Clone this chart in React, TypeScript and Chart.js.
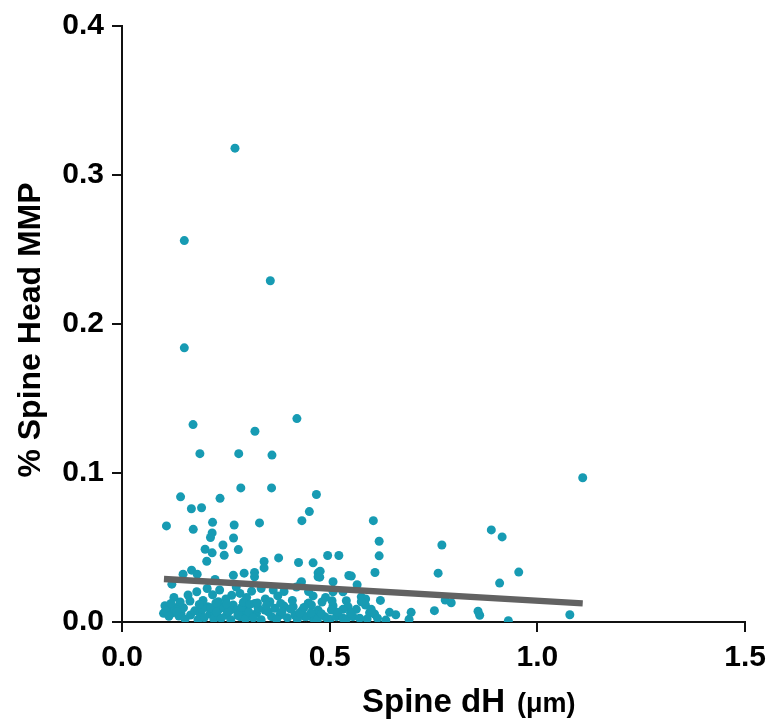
import React, { useEffect, useRef } from "react";
import { Chart, registerables } from "chart.js";

Chart.register(...registerables);

const xTicks = [0, 0.5, 1.0, 1.5];
const yTicks = [0, 0.1, 0.2, 0.3, 0.4];

const spineDH: number[] = [
  0.272, 0.150, 0.357, 0.150, 0.171, 0.320, 0.421, 0.1875, 0.281, 0.361,
  0.286, 0.360, 0.141, 0.468, 0.236, 0.167, 0.1915, 0.451, 0.433, 0.218,
  0.270, 0.331, 0.107, 0.1715, 0.217, 0.213, 0.2685, 0.243, 0.200, 0.280,
  0.217, 0.246, 0.204, 0.342, 0.377, 0.425, 0.460, 0.342, 0.1675, 0.147,
  0.181, 0.294, 0.268, 0.319, 0.319, 0.472, 0.120, 0.224, 0.430, 0.472,
  0.159, 0.180, 0.218, 0.264, 0.284, 0.312, 0.364, 0.390, 0.449, 0.1635,
  0.232, 0.356, 0.4495, 0.390,
  0.605, 0.619, 0.619, 0.495, 0.522, 0.609, 0.477, 0.476, 0.546, 0.552,
  0.508, 0.566, 0.432, 0.508, 0.532, 0.576, 0.5865, 0.622, 0.4815, 0.5056,
  0.508, 0.540, 0.544, 0.564, 0.586, 0.596, 0.608, 0.644, 0.659, 0.635,
  0.696, 0.691, 0.752, 0.761, 0.770, 0.778, 0.7925, 0.857, 0.861, 0.889,
  0.915, 0.909, 0.955, 0.930, 1.078, 1.109, 0.448, 0.504, 0.532, 0.576,
  0.44, 0.46, 0.488, 0.5, 0.516, 0.532, 0.556, 0.572,
  0.1034, 0.1154, 0.1354, 0.100, 0.1218, 0.1418, 0.165, 0.1875, 0.206, 0.2115,
  0.2316, 0.2356, 0.2516, 0.2676, 0.2756, 0.2916, 0.2997, 0.3197, 0.3237, 0.3438,
  0.360, 0.380, 0.412, 0.416, 0.434, 0.444, 0.456, 0.464, 0.472, 0.111,
  0.1955, 0.2236, 0.2596, 0.2837, 0.312,
  0.105, 0.113, 0.128, 0.137, 0.148, 0.152, 0.175, 0.183, 0.193, 0.198,
  0.214, 0.221, 0.228, 0.239, 0.245, 0.256, 0.262, 0.279, 0.288, 0.297,
  0.305, 0.316, 0.328, 0.335, 0.352, 0.368, 0.372, 0.385, 0.398, 0.405,
  0.422, 0.428, 0.438, 0.455, 0.47, 0.48, 0.495, 0.52, 0.54, 0.55,
  0.59, 0.6, 0.615,
  0.125, 0.14, 0.195, 0.205, 0.235, 0.25, 0.275, 0.3, 0.335, 0.345,
  0.375, 0.41, 0.42, 0.46, 0.49,
  0.118, 0.132, 0.186, 0.226, 0.252, 0.292, 0.308, 0.326, 0.348, 0.382,
];

const headMMP: number[] = [
  0.318, 0.256, 0.229, 0.184, 0.1325, 0.128, 0.1365, 0.113, 0.113, 0.112,
  0.090, 0.090, 0.084, 0.0856, 0.083, 0.076, 0.0767, 0.0741, 0.068, 0.0669,
  0.0651, 0.0665, 0.0645, 0.0622, 0.0598, 0.0567, 0.0564, 0.0517, 0.0488, 0.0486,
  0.0464, 0.0448, 0.0408, 0.0406, 0.043, 0.0399, 0.0397, 0.0363, 0.0348, 0.0321,
  0.0321, 0.0328, 0.0314, 0.0332, 0.0303, 0.033, 0.0254, 0.0286, 0.0259, 0.0303,
  0.0181, 0.0203, 0.0183, 0.0179, 0.0192, 0.0207, 0.0214, 0.0205, 0.0205, 0.0141,
  0.0136, 0.0136, 0.0127, 0.0107,
  0.068, 0.0542, 0.0444, 0.0446, 0.0446, 0.0332, 0.0341, 0.0301, 0.0312, 0.0308,
  0.027, 0.025, 0.027, 0.0203, 0.0203, 0.0169, 0.0154, 0.0145, 0.0134, 0.0143,
  0.0109, 0.0143, 0.0102, 0.0085, 0.0114, 0.0062, 0.0054, 0.0065, 0.0049, 0.0013,
  0.0065, 0.0018, 0.0076, 0.0328, 0.0517, 0.0147, 0.0129, 0.0072, 0.0045, 0.0618,
  0.0571, 0.0261, 0.0335, 0.0009, 0.0049, 0.0968, 0.0125, 0.008, 0.0085, 0.0136,
  0.0036, 0.0025, 0.0036, 0.0018, 0.0036, 0.0025, 0.0036, 0.0025,
  0.0109, 0.0109, 0.0102, 0.0058, 0.0062, 0.0058, 0.0047, 0.0058, 0.0102, 0.0054,
  0.008, 0.0114, 0.0047, 0.0114, 0.008, 0.0058, 0.0102, 0.0125, 0.0058, 0.008,
  0.0036, 0.0047, 0.0102, 0.0047, 0.008, 0.0036, 0.0114, 0.0036, 0.008, 0.0058,
  0.0102, 0.0047, 0.008, 0.0036, 0.0036,
  0.0075, 0.0038, 0.0085, 0.004, 0.0095, 0.002, 0.0075, 0.0015, 0.0085, 0.003,
  0.0095, 0.002, 0.0065, 0.0025, 0.0095, 0.0068, 0.0015, 0.0045, 0.0098, 0.0022,
  0.0068, 0.0028, 0.0092, 0.0015, 0.0068, 0.0092, 0.0018, 0.0068, 0.0028, 0.0088,
  0.0018, 0.0062, 0.0098, 0.0062, 0.0015, 0.0055, 0.002, 0.0065, 0.002, 0.006,
  0.002, 0.0085, 0.0025,
  0.0165, 0.0135, 0.0145, 0.0225, 0.0215, 0.0155, 0.0235, 0.0165, 0.0225, 0.0155,
  0.0175, 0.0145, 0.0235, 0.0175, 0.0165,
  0.0125, 0.0068, 0.0118, 0.0128, 0.0122, 0.0132, 0.0118, 0.0128, 0.0112, 0.0125,
];

const fitX = [0.101, 1.109];
const fitY = [0.0288, 0.0125];

const xTitle = "Spine dH";
const xUnit = "(μm)";
const yTitle = "% Spine Head MMP";

const FONT = '"Liberation Sans", Arial, Helvetica, sans-serif';

export default function App() {
  const ref = useRef<HTMLCanvasElement | null>(null);

  useEffect(() => {
    if (!ref.current) return;
    const points = spineDH.map((x, i) => ({ x, y: headMMP[i] }));
    const fit = fitX.map((x, i) => ({ x, y: fitY[i] }));

    const titlePlugin = {
      id: "titles",
      afterDraw(chart: any) {
        const ctx = chart.ctx;
        ctx.save();
        ctx.fillStyle = "#000";
        ctx.textBaseline = "alphabetic";
        ctx.textAlign = "left";
        ctx.font = `bold 33px ${FONT}`;
        ctx.fillText(xTitle, 362, 712);
        ctx.font = `bold 27px ${FONT}`;
        ctx.fillText(xUnit, 517, 712);
        ctx.translate(31, 330);
        ctx.rotate(-Math.PI / 2);
        ctx.textAlign = "center";
        ctx.textBaseline = "middle";
        ctx.font = `bold 32px ${FONT}`;
        ctx.fillText(yTitle, 0, 0);
        ctx.restore();
      },
    };

    const chart = new Chart(ref.current, {
      type: "scatter",
      data: {
        datasets: [
          {
            type: "line",
            data: fit,
            borderColor: "#626262",
            borderWidth: 6.5,
            borderCapStyle: "butt",
            pointRadius: 0,
            fill: false,
            order: 0,
          } as any,
          {
            type: "scatter",
            data: points,
            backgroundColor: "#179bb3",
            borderWidth: 0,
            pointRadius: 4.5,
            order: 1,
          },
        ],
      },
      options: {
        responsive: false,
        animation: false,
        layout: { padding: { top: 24, right: 28, left: 0, bottom: 0 } },
        plugins: {
          legend: { display: false },
          tooltip: { enabled: false },
        },
        scales: {
          x: {
            type: "linear",
            min: xTicks[0],
            max: xTicks[xTicks.length - 1],
            afterBuildTicks: (s: any) => {
              s.ticks = xTicks.map((v) => ({ value: v }));
            },
            afterFit: (s: any) => {
              s.height = 102;
            },
            ticks: {
              color: "#000",
              font: { family: FONT, size: 30, weight: "bold" },
              padding: 8,
              maxRotation: 0,
              callback: (v: any) => Number(v).toFixed(1),
            },
            grid: {
              display: true,
              drawOnChartArea: false,
              drawTicks: true,
              tickLength: 10,
              color: "#111",
              lineWidth: 2,
            },
            border: { display: true, color: "#111", width: 2 },
          },
          y: {
            type: "linear",
            min: yTicks[0],
            max: yTicks[yTicks.length - 1],
            afterBuildTicks: (s: any) => {
              s.ticks = yTicks.map((v) => ({ value: v }));
            },
            afterFit: (s: any) => {
              s.width = 122;
            },
            ticks: {
              color: "#000",
              font: { family: FONT, size: 30, weight: "bold" },
              padding: 8,
              callback: (v: any) => Number(v).toFixed(1),
            },
            grid: {
              display: true,
              drawOnChartArea: false,
              drawTicks: true,
              tickLength: 10,
              color: "#111",
              lineWidth: 2,
            },
            border: { display: true, color: "#111", width: 2 },
          },
        },
      },
      plugins: [titlePlugin],
    } as any);
    return () => chart.destroy();
  }, []);

  return (
    <div style={{ position: "fixed", left: 0, top: 0, width: 774, height: 724, background: "#fff" }}>
      <canvas ref={ref} width={774} height={724} style={{ display: "block" }} />
    </div>
  );
}
